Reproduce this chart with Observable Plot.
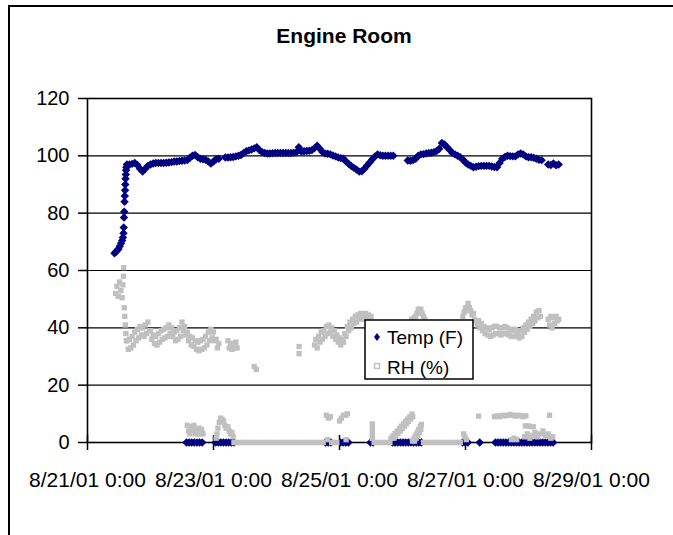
<!DOCTYPE html>
<html>
<head>
<meta charset="utf-8">
<script src="https://cdn.jsdelivr.net/npm/d3@7"></script>
<script src="https://cdn.jsdelivr.net/npm/@observablehq/plot@0.6"></script>
<style>
html, body { margin: 0; padding: 0; background: #fff; }
#wrap { position: relative; width: 673px; height: 535px; overflow: hidden; font-family: "Liberation Sans", Arial, sans-serif; }
#outer { position: absolute; left: 8px; top: 5px; width: 720px; height: 600px; border-left: 2px solid #000; border-top: 2px solid #000; }
#chart { position: absolute; left: 0; top: 0; }
#title { position: absolute; left: 0; width: 688px; top: 25px; text-align: center; font-weight: bold; font-size: 21px; line-height: 21px; color: #000; }
#legend { position: absolute; left: 0; top: 0; }
</style>
</head>
<body>
<div id="wrap">
  <div id="outer"></div>
  <div id="chart"></div>
  <div id="title">Engine Room</div>
  <svg id="legend" width="673" height="535" style="font-family:'Liberation Sans',Arial,sans-serif">
    <rect x="365" y="320" width="108" height="59" fill="#fff" stroke="#000" stroke-width="1.5"></rect>
    <path d="M377,333 L380,337 L377,341 L374,337 Z" fill="#000080"></path>
    <rect x="374.5" y="363.5" width="5" height="5" fill="#fff" stroke="#c0c0c0" stroke-width="1.5"></rect>
    <text x="387" y="344" font-size="19" fill="#000" id="lg1"></text>
    <text x="387" y="374" font-size="19" fill="#000" id="lg2"></text>
  </svg>
</div>
<script>
// ---- data (hours after 8/21/01 0:00) ----
const seriesNames = ["Temp (F)", "RH (%)"];
const yTicks = [0, 20, 40, 60, 80, 100, 120];
const xTickHours = [0, 48, 96, 144, 192];
const xTickLabels = ["8/21/01 0:00", "8/23/01 0:00", "8/25/01 0:00", "8/27/01 0:00", "8/29/01 0:00"];

// Temp: explicit [hour, value] readings around the start-up rise
const tempRise = [[10.3,66],[10.8,66.5],[11.3,67],[11.8,67.5],[12.3,68.5],[12.8,69.5],[13.2,70.5],[13.5,71.5],[13.7,73],[13.8,75],[13.9,78.5],[14.0,80.5],[14.1,84],[14.2,86],[14.3,88],[14.4,90],[14.5,92],[14.6,93.5],[14.7,95],[14.8,96]];
// Temp runs: [startHour, stepHours, values]
const tempRuns = [
  [15, 1, [97,97,97.2,97.5,96.8,95.5,94.5,95.5,96.5,97,97.3,97.5,97.5,97.5,97.5,97.6,97.7,97.8,98,98,98.2,98.3,98.4,98.5,99.3,100,100.3,99.5,99,98.8,98.6,98,97.3,98,98.8,99]],
  [52.5, 1, [99.4,99.4,99.5,99.6,99.8,100,100.3,101,101.6,101.9,102.2,102.6,103,102,101.3,101,100.8,100.8,100.9,101,101,101,101,101,101,101,101.1,101.2,103,101.5,101.6,101.7,101.8,102,102.7,103.5,102.5,101.3,100.8,100.7,100.5,100.1,99.8,99.4,99.2,99,98,97.2,96.4,95.8,95.2,94.5,94.6,95.5,96.6,97.7,98.8,99.8,100.5,100.2,100,100,100,100,100]],
  [122, 1, [98.4,98.3,98.5,99,100,100.5,100.6,100.8,101,101.1,101.3,101.7,102.5,104.5,104,103,102,101,100.5,100,99.5,98.7,97.7,97,96.5,96,96.2,96.4,96.5,96.5,96.5,96.5,96.3,96.1,96,97.5,99,99.6,100,99.9,99.8,99.8,100.5,100.8,100.5,99.8,99.5,99.5,99.3,99,98.6,98.5]],
  [175.5, 1, [97,96.8,97.3,96.7,97]]
];
const tempZeroRuns = [
  [37.7, 1, [0,0,0,0,0,0,0]],
  [48.8, 1, [0,0,0,0,0,0,0,0]],
  [90.7, 1, [0,0,0]],
  [96.4, 1, [0,0,0,0]],
  [107.8, 1, [0,0]],
  [116.2, 1, [0,0,0,0,0,0,0,0,0,0,0,0]],
  [142.9, 1, [0,0,0]],
  [149.4, 1, [0]],
  [155.4, 1, [0,0,0,0,0,0,0,0,0,0,0,0,0,0,0,0,0,0,0,0,0,0,0]]
];

// RH
const rhStart = [[10.7,52],[11.2,54.5],[11.7,51],[12.2,56],[12.7,53],[13.2,50.5],[13.5,55],[13.7,58],[13.8,61],[14,47],[14.2,44],[14.4,41],[14.6,38],[14.8,35.5],[63.5,26.5],[64.3,25.5],[80.6,33.5],[80.6,31]];
const rhRuns = [
  [15, 0.5, [35.5,32.5,36,33,37,34,38.5,35.5,39.5,36.5,40.5,37.5,40,37,41,38,42,39,39,36,37.5,34.5,37,34,38,35,39,36,39.5,36.5,40,37,41,38,40,37,38.5,35.5,39,36,40,37,42,39,40.5,37.5,38.5,35.5,37,34,36.5,33.5,35.5,32.5,35,32,35.5,32.5,36,33,37,34,38.5,35.5,39.5,36.5,38.5,35.5,36,33,34.5]],
  [53.5, 0.5, [35.5,33,34.5,32.5,34,33,35,33]],
  [86.5, 0.5, [34,36,33,37,35,38.5,36,39,37,40.5,38,41,38.5,40,37,39,36,37.5,35,36.5,34,36,35,38,37,40.5,39,42,40,43,41.5,44,42,44.5,43,45,43,45,43.5,45,43,44.5,42.5,44]],
  [108.5, 1, [41.5,41.5,41,41,40.5,41,41.5,41,41,41.5,41.5,41,41.5,41.5,41.5]],
  [123.5, 0.5, [43,42.5,43.5,44,45,46.5,45.5,46.5,45,44,43]],
  [129, 1, [41,40.5,40,40,40.5,41,40.5,40,40,40.5,41,41,41.5,41.5]],
  [143, 0.5, [44,45.5,47,46,48.5,47,46,44.5,45,43,42.5]],
  [148.5, 0.5, [41,42.5,40,41.5,39,40.5,38,40,37.5,39.5,37,40,37.5,40.5,38,40.5,38,40,37.5,40,38,40.5,38,40,37.5,39.5,37,39,37,39.5,37.5]],
  [164, 0.5, [38.5,36.5,39,37,40,38.5,41,39.5,42,40.5,43,41.5,44,42.5,45.5,43.5,46,44]],
  [175.5, 0.5, [43,41,44,40,43.5,41.5,44,42.5,43]]
];
const rhZeroRuns = [
  [55.8, 1, [0,0,0,0,0,0,0,0,0,0,0,0,0,0,0,0,0,0,0,0,0,0,0,0,0,0,0,0,0,0,0,0,0,0,0]],
  [93, 1, [0,0,0]],
  [109.2, 1, [0,0,0,0,0,0,0]],
  [128, 1, [0,0,0,0,0,0,0,0,0,0,0,0,0,0,0]]
];
const rhLow = [
  [38,6],[38.5,4],[39,3],[39.5,5.5],[40,4],[40.5,6],[41,3],[41.5,4.5],[42,3],[42.5,5],[43,3],[43.5,4.5],[44,3],
  [49,1.5],[49.3,3],[49.7,5],[50.2,7],[50.7,8.5],[51.3,8],[51.8,7.5],[52.3,6],[52.8,5],[53.5,5.5],[54,4],[54.5,3],[55,3.5],[55.5,2],
  [91,9.5],[91.8,8.5],[92.5,9],[91.5,1],
  [96,7.5],[96.7,8.5],[97.5,9.5],[98.3,9.5],[99,10],[98.5,1],
  [108.5,6.5],[108.5,4.8],[108.5,3.1],[108.5,1.4],
  [115.6,1.5],[116.4,2.3],[117.2,3.2],[118,4],[118.8,4.9],[119.6,5.7],[120.4,6.5],[121.2,7.4],[122,8.2],[122.8,9],[123.6,9.9],
  [116.7,1.5],[117.5,2.3],[118.3,3.2],[119.1,4],[119.9,4.9],[120.7,5.7],[121.5,6.5],[122.3,7.4],[123.1,8.2],[123.9,9],
  [123.8,0.5],[124.4,1.5],[125,2.5],[125.6,3.5],[126.2,4.5],[126.8,5.5],[127.2,6.3],
  [124.6,0.5],[125.2,1.5],[125.8,2.5],[126.4,3.5],[127,4.5],
  [143.3,3],[143.8,2],[144.3,1],
  [149,9.2],
  [155,9],[156,9.3],[157,9],[158,9.5],[159,9.3],[160,9.5],[161,9.8],[162,9.5],[163,9.2],[164,9.5],[165,9.3],[166,9],[167,9.3],
  [166.8,5.8],[167.8,5.8],[168.8,5.6],[169.8,5.5],
  [161.5,1],[162.5,1.5],[163.5,1],[166.5,2],[167.5,3],[168.5,1.5],[169.5,2.5],[170.5,3.5],[171.5,2],[172.5,3],[173.5,4],[174.5,2.5],[175.5,3],[176.5,1.5],[177.2,2],
  [176,9.5]
];

// ---- build ----
const T0 = Date.UTC(2001, 7, 21, 0, 0);
const toDate = h => new Date(T0 + h * 3600000);
const fromPairs = pairs => pairs.map(([h, v]) => ({date: toDate(h), value: v}));
const fromRuns = runs => runs.flatMap(([s, step, vals]) => vals.map((v, i) => ({date: toDate(s + i * step), value: v})));

const tempData = [...fromPairs(tempRise), ...fromRuns(tempRuns), ...fromRuns(tempZeroRuns)];
const rhData = [...fromPairs(rhStart), ...fromRuns(rhRuns), ...fromRuns(rhZeroRuns), ...fromPairs(rhLow)];
const xTickDates = xTickHours.map(toDate);
const labelFor = d => xTickLabels[xTickDates.findIndex(t => +t === +d)];

const chart = Plot.plot({
  width: 673,
  height: 535,
  marginLeft: 87,
  marginRight: 82,
  marginTop: 98,
  marginBottom: 93,
  style: {fontFamily: '"Liberation Sans", Arial, sans-serif', fontSize: "20px", color: "#000", background: "transparent", overflow: "visible"},
  x: {type: "utc", domain: [xTickDates[0], xTickDates[xTickDates.length - 1]], label: null},
  y: {domain: [0, 120], label: null},
  marks: [
    Plot.ruleY(yTicks.slice(1, -1), {stroke: "#000", strokeWidth: 1.2}),
    Plot.frame({stroke: "#000", strokeWidth: 1.6}),
    Plot.axisY({ticks: yTicks, tickSize: 9, tickPadding: 9, tickFormat: d => String(d), strokeWidth: 1.5, label: null}),
    Plot.ruleX(xTickDates, {x: d => d, y1: 0, y2: 0, insetTop: -7, insetBottom: -8, stroke: "#000", strokeWidth: 1.5}),
    Plot.axisX({ticks: xTickDates, tickSize: 0, tickPadding: 30, tickFormat: labelFor, label: null, fontSize: 21}),
    Plot.dot(tempData, {x: "date", y: "value", symbol: "diamond2", r: 3.8, fill: "#000080", stroke: null}),
    Plot.dot(rhData, {x: "date", y: "value", symbol: "square2", r: 3.4, fill: "#c0c0c0", stroke: null})
  ]
});
document.getElementById("chart").appendChild(chart);
document.getElementById("lg1").textContent = seriesNames[0];
document.getElementById("lg2").textContent = seriesNames[1];
</script>
</body>
</html>
